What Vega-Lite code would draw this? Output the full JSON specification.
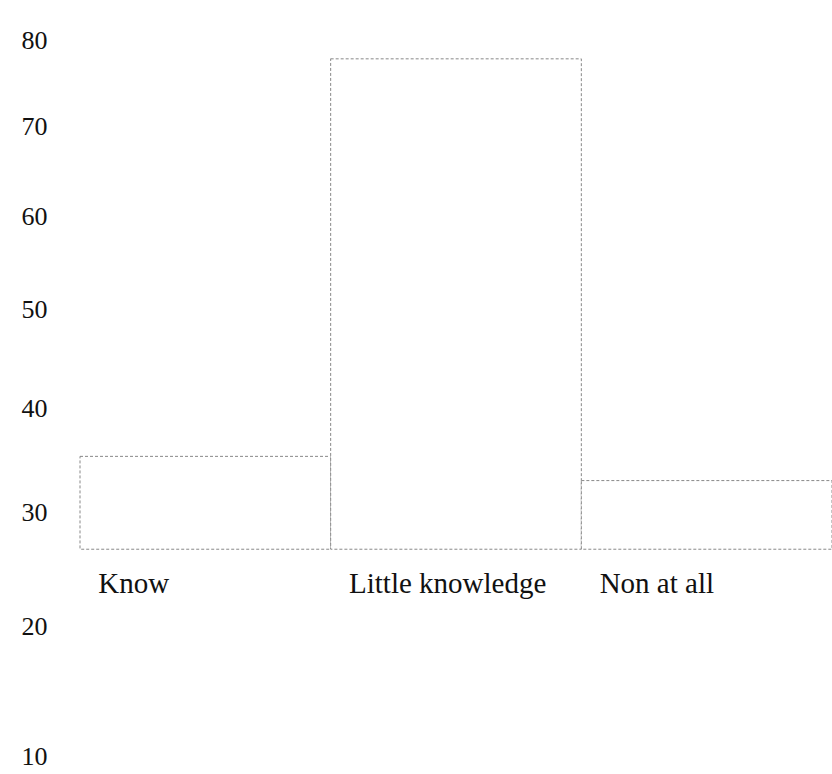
{
  "$schema": "https://vega.github.io/schema/vega-lite/v6.json",
  "autosize": "none",
  "padding": {"left": 80, "top": 0, "right": 0, "bottom": 0},
  "width": 752,
  "height": 774,
  "background": "white",
  "config": {"view": {"stroke": null}},
  "data": {
    "values": [
      {"category": "Know", "value": 35.3},
      {"category": "Little knowledge", "value": 77.8},
      {"category": "Non at all", "value": 33.0}
    ]
  },
  "mark": {
    "type": "bar",
    "fill": "white",
    "stroke": "#888888",
    "strokeWidth": 1,
    "strokeDash": [3, 2]
  },
  "encoding": {
    "x": {
      "field": "category",
      "type": "nominal",
      "sort": null,
      "scale": {"paddingInner": 0, "paddingOuter": 0},
      "axis": {
        "title": null,
        "domain": false,
        "ticks": false,
        "tickSize": 0,
        "labelPadding": 0,
        "offset": -191,
        "labelAngle": 0,
        "labelAlign": "left",
        "labelBaseline": "middle",
        "labelOffset": -107,
        "labelLimit": 0,
        "labelFont": "Liberation Serif",
        "labelFontSize": 29,
        "labelColor": "#111111"
      }
    },
    "y": {
      "field": "value",
      "type": "quantitative",
      "scale": {"type": "pow", "exponent": 0.75, "domain": [8.83, 84.74], "nice": false, "zero": false},
      "axis": {
        "title": null,
        "domain": false,
        "ticks": false,
        "tickSize": 0,
        "grid": false,
        "values": [10, 20, 30, 40, 50, 60, 70, 80],
        "labelPadding": 33,
        "labelFont": "Liberation Serif",
        "labelFontSize": 26,
        "labelColor": "#111111"
      }
    },
    "y2": {"datum": 26.7}
  }
}
